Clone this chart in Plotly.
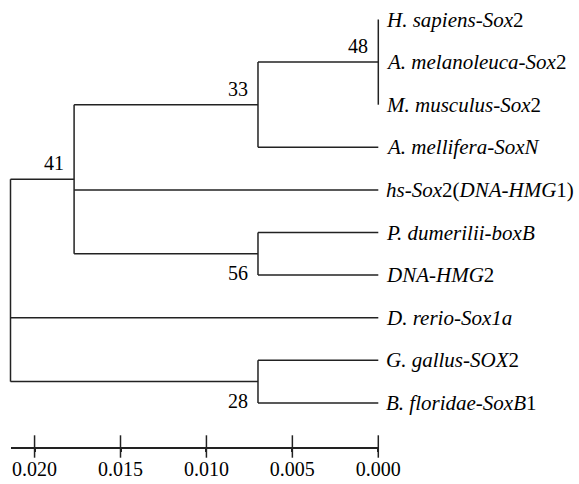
import plotly.graph_objects as go

# ---------------- data ----------------
leaf_labels = [
    "<i>H. sapiens-Sox</i>2",
    "<i>A. melanoleuca-Sox</i>2",
    "<i>M. musculus-Sox</i>2",
    "<i>A. mellifera-SoxN</i>",
    "<i>hs-Sox</i>2(<i>DNA-HMG</i>1)",
    "<i>P. dumerilii-boxB</i>",
    "<i>DNA-HMG</i>2",
    "<i>D. rerio-Sox1a</i>",
    "<i>G. gallus-SOX</i>2",
    "<i>B. floridae-SoxB</i>1",
]
leaf_heights = [0.0] * 10

node_names = ["n48", "n33", "n56", "n41", "n28", "root"]
node_heights = [0.0, 0.0070, 0.0070, 0.0177, 0.0070, 0.0214]
node_children = [
    [0, 1, 2],
    ["n48", 3],
    [5, 6],
    ["n33", 4, "n56"],
    [8, 9],
    ["n41", 7, "n28"],
]
node_support = [48, 33, 56, 41, 28, None]
support_side = ["above", "above", "below", "above", "below", None]

scale_ticks = [0.020, 0.015, 0.010, 0.005, 0.000]
scale_ticktext = ["0.020", "0.015", "0.010", "0.005", "0.000"]

# ---------------- layout constants ----------------
W, H = 579, 484
X_ROOT_PX, X_ZERO_PX = 10.5, 378.3
LEAF0_PX, LEAF_STEP_PX = 19.5, 42.6
AXIS_PX = 446.5
FONT = "Liberation Serif, Times New Roman, serif"
LINE_COLOR = "#222222"
LW = 1.5

root_h = node_heights[node_names.index("root")]
px_per_unit = (X_ZERO_PX - X_ROOT_PX) / root_h
x_range = [root_h + X_ROOT_PX / px_per_unit, -(W - X_ZERO_PX) / px_per_unit]
y_range = [(H - LEAF0_PX) / LEAF_STEP_PX, -LEAF0_PX / LEAF_STEP_PX]

# ---------------- tree geometry ----------------
pos = {}
for i, h in enumerate(leaf_heights):
    pos[i] = (h, float(i))

def node_pos(name):
    if name in pos:
        return pos[name]
    k = node_names.index(name)
    ys = [node_pos(c)[1] for c in node_children[k]]
    pos[name] = (node_heights[k], (ys[0] + ys[-1]) / 2.0)
    return pos[name]

for n in node_names:
    node_pos(n)

xs, ys = [], []
for k, n in enumerate(node_names):
    h, y = pos[n]
    cy = [pos[c][1] for c in node_children[k]]
    xs += [h, h, None]
    ys += [cy[0], cy[-1], None]
    for c in node_children[k]:
        ch, cyy = pos[c]
        xs += [h, ch, None]
        ys += [cyy, cyy, None]

fig = go.Figure()
fig.add_trace(go.Scatter(
    x=xs, y=ys, mode="lines",
    line=dict(color=LINE_COLOR, width=LW),
    hoverinfo="skip", showlegend=False,
))

# scale bar tick marks (cross the axis line)
fig.add_trace(go.Scatter(
    x=scale_ticks, y=[0] * len(scale_ticks),
    xaxis="x2", yaxis="y2", mode="markers",
    marker=dict(symbol="line-ns", size=16,
                line=dict(color=LINE_COLOR, width=LW)),
    cliponaxis=False, hoverinfo="skip", showlegend=False,
))

annotations = []
for i, lab in enumerate(leaf_labels):
    annotations.append(dict(
        x=leaf_heights[i], y=i, xref="x", yref="y", text=lab,
        showarrow=False, xanchor="left", yanchor="middle", xshift=6,
        font=dict(family=FONT, size=21, color="black"),
    ))
for k, n in enumerate(node_names):
    if node_support[k] is None:
        continue
    h, y = pos[n]
    annotations.append(dict(
        x=h, y=y, xref="x", yref="y", text=str(node_support[k]),
        showarrow=False, xanchor="right", yanchor="middle", xshift=-8,
        yshift=16 if support_side[k] == "above" else -19,
        font=dict(family=FONT, size=20, color="black"),
    ))

axis_pos = 1 - AXIS_PX / H
fig.update_layout(
    width=W, height=H, autosize=False,
    margin=dict(l=0, r=0, t=0, b=0, pad=0, autoexpand=False),
    paper_bgcolor="white", plot_bgcolor="rgba(0,0,0,0)",
    showlegend=False,
    xaxis=dict(range=x_range, domain=[0, 1], visible=False, fixedrange=True,
               automargin=False),
    yaxis=dict(range=y_range, domain=[0, 1], visible=False, fixedrange=True,
               automargin=False),
    yaxis2=dict(range=[0, 1], domain=[axis_pos, axis_pos + 0.02],
                anchor="x2", visible=False, fixedrange=True, automargin=False),
    xaxis2=dict(
        anchor="y2",
        domain=[X_ROOT_PX / W, X_ZERO_PX / W],
        range=[root_h, 0.0],
        tickvals=scale_ticks, ticktext=scale_ticktext,
        showline=True, linecolor=LINE_COLOR, linewidth=LW,
        ticks="outside", ticklen=4, tickcolor=LINE_COLOR, tickwidth=LW,
        showgrid=False, zeroline=False, side="bottom",
        tickfont=dict(family=FONT, size=20, color="black"),
        fixedrange=True, automargin=False,
    ),
    annotations=annotations,
)

fig.write_html(
    "out.html",
    config={"responsive": False, "displayModeBar": False},
    post_script="document.body.style.margin='0';document.body.style.overflow='hidden';",
)
